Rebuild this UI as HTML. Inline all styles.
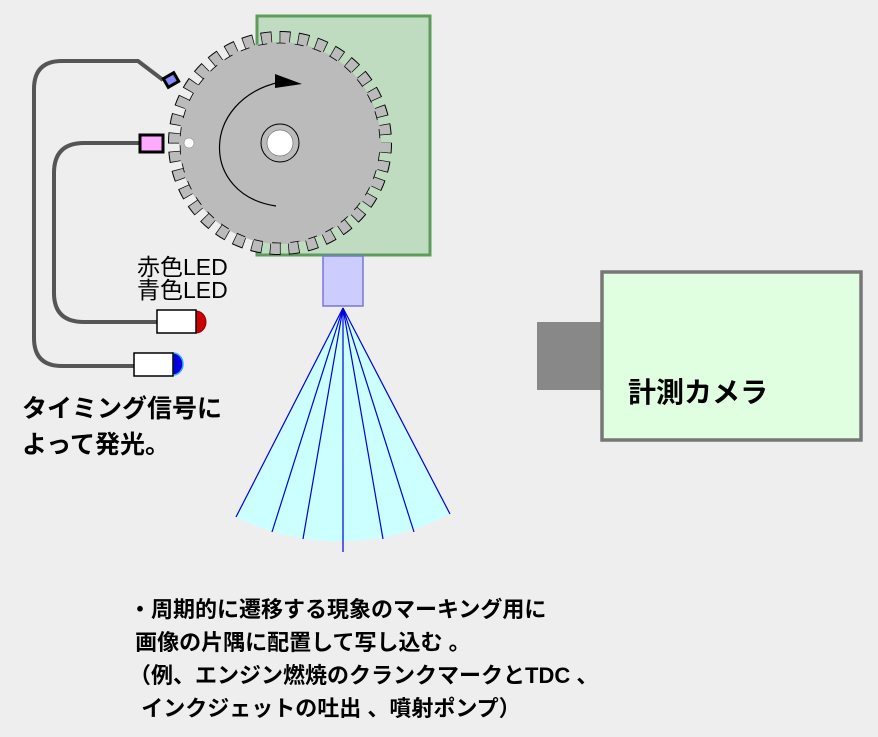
<!DOCTYPE html>
<html><head><meta charset="utf-8"><style>
html,body{margin:0;padding:0;background:#eeeeee;}
body{width:878px;height:737px;overflow:hidden;position:relative;}
.t{position:absolute;font-family:"Liberation Sans","Noto Sans CJK JP",sans-serif;color:#000;white-space:nowrap;}
</style></head><body>
<svg width="878" height="737" style="position:absolute;left:0;top:0">
<rect x="257" y="16" width="173" height="239" fill="#c0dcc0" stroke="#5c9c5c" stroke-width="3"/>
<!-- gear -->
<circle cx="280" cy="143" r="105" fill="none" stroke="#000" stroke-width="14" stroke-dasharray="10.6 7.73" stroke-dashoffset="0.7"/>
<circle cx="280" cy="143" r="105" fill="none" stroke="#bbbbbb" stroke-width="12" stroke-dasharray="9.2 9.13"/>
<circle cx="280" cy="143" r="100" fill="#bbbbbb" stroke="#000" stroke-width="0.8"/>
<circle cx="280" cy="143" r="100" fill="none" stroke="#bbbbbb" stroke-width="2" stroke-dasharray="9.2 9.13"/>
<circle cx="280" cy="143" r="19" fill="none" stroke="#000" stroke-width="1"/>
<circle cx="280" cy="143" r="13" fill="#fff" stroke="#444" stroke-width="0.5"/>
<circle cx="189" cy="143" r="5" fill="#fff" stroke="#777" stroke-width="0.5"/>
<path d="M276 206 C 200 195, 200 100, 280 82" fill="none" stroke="#000" stroke-width="1.2"/>
<polygon points="275,74 302,84 275,88" fill="#000"/>
<path d="M163 80 L138 61 L62 61 Q34 61 34 89 L34 338 Q34 366 62 366 L136 366" fill="none" stroke="#555" stroke-width="4"/>
<path d="M140 143 L84 143 Q54 143 54 173 L54 293 Q54 322 84 322 L158 322" fill="none" stroke="#555" stroke-width="4"/>
<rect x="165" y="75" width="12" height="10" fill="#8888ff" stroke="#000" stroke-width="3" transform="rotate(-30 171 80)"/>
<rect x="140" y="135" width="23" height="17" fill="#ffaaff" stroke="#000" stroke-width="3"/>
<path d="M196 311 A10 11 0 0 1 196 333 Z" fill="#cc0000" stroke="#900" stroke-width="1"/>
<rect x="157" y="310" width="39" height="23" fill="#fff" stroke="#000" stroke-width="1.5"/>
<path d="M173 353 A10 11 0 0 1 173 375 Z" fill="#0000dd" stroke="#33aaff" stroke-width="1.5"/>
<rect x="134" y="353" width="39" height="23" fill="#fff" stroke="#000" stroke-width="1.5"/>
<rect x="323" y="256" width="40" height="50" fill="#ccccff" stroke="#7777dd" stroke-width="1.5"/>
<path d="M343 308 L236 517 A235 235 0 0 0 450 514 Z" fill="#ccffff"/>
<g stroke="#0000dd" stroke-width="1.2">
<line x1="343" y1="308" x2="236" y2="517"/>
<line x1="343" y1="308" x2="272" y2="532"/>
<line x1="343" y1="308" x2="303" y2="539"/>
<line x1="343" y1="308" x2="343" y2="552"/>
<line x1="343" y1="308" x2="383" y2="539"/>
<line x1="343" y1="308" x2="414" y2="532"/>
<line x1="343" y1="308" x2="450" y2="514"/>
</g>
<rect x="537" y="322" width="64" height="68" fill="#888888"/>
<rect x="602" y="272" width="259" height="168" fill="#e0ffe0" stroke="#777" stroke-width="3.5"/>
</svg>
<div class="t" style="left:137px;top:256px;font-size:23px;line-height:23px;">赤色LED<br>青色LED</div>
<div class="t" style="left:22px;top:391px;font-size:25px;line-height:36px;font-weight:bold;">タイミング信号に<br>よって発光。</div>
<div class="t" style="left:628px;top:371px;font-size:28px;font-weight:bold;">計測カメラ</div>
<div class="t" style="left:129px;top:593px;font-size:22px;line-height:33px;font-weight:bold;">・周期的に遷移する現象のマーキング用に<br>&nbsp;画像の片隅に配置して写し込む 。<br>（例、エンジン燃焼のクランクマークとTDC 、<br>&nbsp;&nbsp;インクジェットの吐出 、噴射ポンプ）</div>
</body></html>
